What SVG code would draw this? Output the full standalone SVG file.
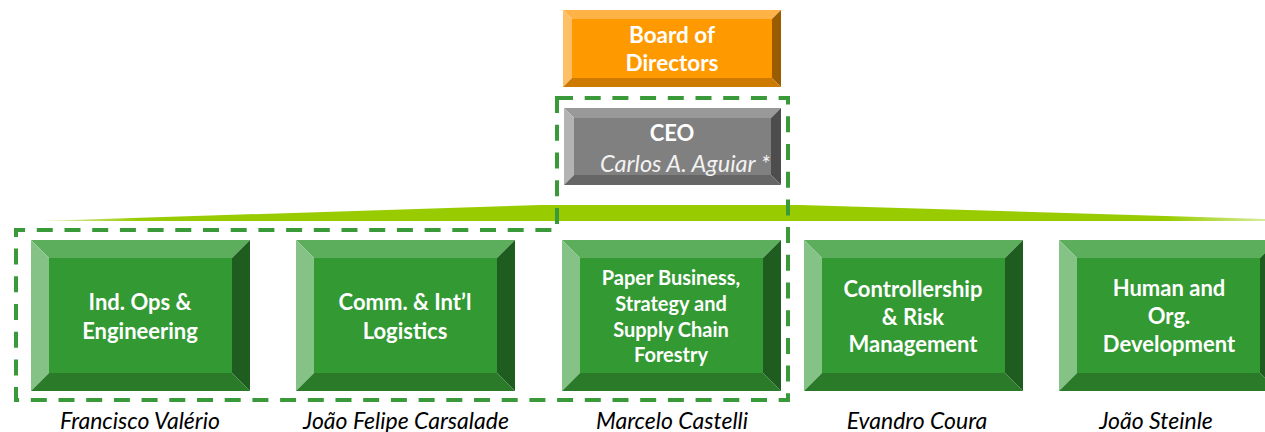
<svg xmlns="http://www.w3.org/2000/svg" xmlns:xlink="http://www.w3.org/1999/xlink" width="1265" height="432" viewBox="0 0 1265 432">
<style>
.bold{font-family:Lato,"Liberation Sans",sans-serif;font-weight:bold;fill:#ffffff;text-anchor:middle}
.name{font-family:Lato,"Liberation Sans",sans-serif;font-style:italic;fill:#000000;text-anchor:middle;font-size:23px}
.dash{fill:none;stroke:#3a9a3a;stroke-width:4;stroke-dasharray:16 11.7}
</style>
<defs>
<linearGradient id="barg" x1="0" y1="0" x2="1" y2="0">
<stop offset="0" stop-color="#e6f2c0"/>
<stop offset="0.08" stop-color="#99cc00"/>
<stop offset="0.92" stop-color="#99cc00"/>
<stop offset="1" stop-color="#d6ec99"/>
</linearGradient>
<g id="gbox">
<rect x="18" y="18" width="183" height="115" fill="#339933"/>
<polygon points="0,0 219,0 201,18 18,18" fill="#5cad5c"/>
<polygon points="0,0 18,18 18,133 0,151" fill="#85c285"/>
<polygon points="219,0 219,151 201,133 201,18" fill="#1f5c1f"/>
<polygon points="0,151 18,133 201,133 219,151" fill="#2a7a2a"/>
</g>
</defs>
<rect width="1265" height="432" fill="#ffffff"/>

<g id="connectors">
<polygon points="40,221 540,205 800,205 1265,219 1265,221" fill="url(#barg)"/>
<path class="dash" d="M557,98 H788 V400 H16 V230 H557 Z"/>
</g>

<g id="board">
<rect x="572" y="19" width="200" height="59" fill="#ff9900"/>
<polygon points="563,10 781,10 772,19 572,19" fill="#ffb347"/>
<polygon points="563,10 572,19 572,78 563,87" fill="#ffbf66"/>
<polygon points="781,10 781,87 772,78 772,19" fill="#995c00"/>
<polygon points="563,87 572,78 772,78 781,87" fill="#cc7a00"/>
<text class="bold" x="672" y="43" font-size="22.5">Board of</text>
<text class="bold" x="672" y="71" font-size="22.5">Directors</text>
</g>

<g id="ceo">
<rect x="574" y="118" width="197" height="57" fill="#808080"/>
<polygon points="564,108 781,108 771,118 574,118" fill="#999999"/>
<polygon points="564,108 574,118 574,175 564,185" fill="#b3b3b3"/>
<polygon points="781,108 781,185 771,175 771,118" fill="#4d4d4d"/>
<polygon points="564,185 574,175 771,175 781,185" fill="#666666"/>
<text class="bold" x="672" y="141" font-size="22">CEO</text>
<text x="685" y="172" font-family="Lato,'Liberation Sans',sans-serif" font-style="italic" font-size="23.5" fill="#f2f2f2" text-anchor="middle">Carlos A. Aguiar *</text>
</g>

<g id="ops">
<use xlink:href="#gbox" x="31" y="240"/>
<text class="bold" x="140" y="310" font-size="22">Ind. Ops &amp;</text>
<text class="bold" x="140" y="339" font-size="22">Engineering</text>
<text class="name" x="140" y="429">Francisco Valério</text>
</g>

<g id="comm">
<use xlink:href="#gbox" x="296" y="240"/>
<text class="bold" x="405" y="310" font-size="22">Comm. &amp; Int’l</text>
<text class="bold" x="405" y="339" font-size="22">Logistics</text>
<text class="name" x="406" y="429">João Felipe Carsalade</text>
</g>

<g id="paper">
<use xlink:href="#gbox" x="562" y="240"/>
<text class="bold" x="671" y="285" font-size="20">Paper Business,</text>
<text class="bold" x="671" y="311" font-size="20">Strategy and</text>
<text class="bold" x="671" y="337" font-size="20">Supply Chain</text>
<text class="bold" x="671" y="362" font-size="20">Forestry</text>
<text class="name" x="672" y="429">Marcelo Castelli</text>
</g>

<g id="controllership">
<use xlink:href="#gbox" x="804" y="240"/>
<text class="bold" x="913" y="297" font-size="22">Controllership</text>
<text class="bold" x="913" y="325" font-size="22">&amp; Risk</text>
<text class="bold" x="913" y="352" font-size="22">Management</text>
<text class="name" x="917" y="429">Evandro Coura</text>
</g>

<g id="human">
<use xlink:href="#gbox" x="1059" y="240"/>
<text class="bold" x="1169" y="296" font-size="22">Human and</text>
<text class="bold" x="1169" y="324" font-size="22">Org.</text>
<text class="bold" x="1169" y="352" font-size="22">Development</text>
<text class="name" x="1156" y="429">João Steinle</text>
</g>
</svg>
